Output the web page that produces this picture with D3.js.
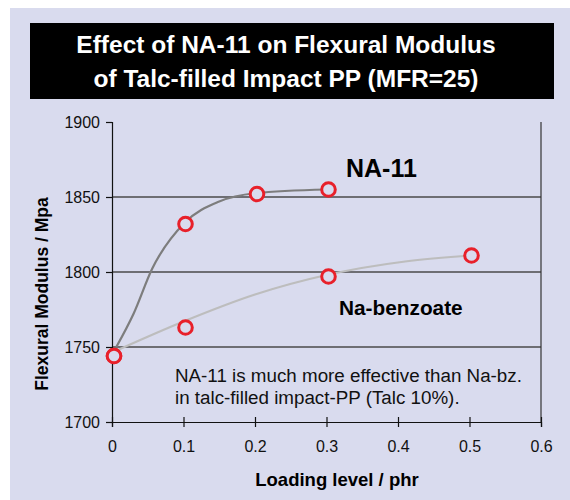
<!DOCTYPE html>
<html>
<head>
<meta charset="utf-8">
<script src="https://cdn.jsdelivr.net/npm/d3@7"></script>
<style>
  body { margin: 0; background: #fff; }
  svg { display: block; font-family: "Liberation Sans", Arial, sans-serif; }
</style>
</head>
<body>
<div id="chart"></div>
<script>
// Data points (loading level in phr, flexural modulus in MPa)
const na11X = [0, 0.1, 0.2, 0.3];
const na11Y = [1744, 1832, 1852, 1855];
const nabzX = [0, 0.1, 0.3, 0.5];
const nabzY = [1744, 1763, 1797, 1811];

// fitted trend curves
const na11TrendX = [0.006, 0.03, 0.056, 0.102, 0.15, 0.2, 0.3];
const na11TrendY = [1750, 1772, 1802, 1833, 1847, 1852.5, 1855];
const nabzTrendX = [0.008, 0.1, 0.2, 0.3, 0.41, 0.503];
const nabzTrendY = [1748, 1767, 1785, 1798, 1807, 1811];

const xTicks = [0, 0.1, 0.2, 0.3, 0.4, 0.5, 0.6];
const yTicks = [1700, 1750, 1800, 1850, 1900];
const gridY = [1750, 1800, 1850];

const width = 570, height = 500;

const svg = d3.select("#chart")
    .append("svg")
    .attr("width", width)
    .attr("height", height);

// lavender panel
svg.append("rect")
    .attr("x", 10).attr("y", 8)
    .attr("width", 560).attr("height", 492)
    .attr("fill", "#D9DBEE");

// title box
svg.append("rect")
    .attr("x", 30).attr("y", 23)
    .attr("width", 524).attr("height", 76)
    .attr("fill", "#000");

const title = svg.append("text")
    .attr("text-anchor", "middle")
    .attr("fill", "#fff")
    .attr("font-weight", "bold")
    .attr("font-size", 24.5);
title.append("tspan").attr("x", 286).attr("y", 53).text("Effect of NA-11 on Flexural Modulus");
title.append("tspan").attr("x", 286).attr("y", 87).text("of Talc-filled Impact PP (MFR=25)");

const x = d3.scaleLinear().domain([0, 0.6]).range([112, 541]);
const y = d3.scaleLinear().domain([1700, 1900]).range([422, 122]);

// grid lines
svg.append("g")
    .selectAll("line")
    .data(gridY)
    .enter()
    .append("line")
    .attr("x1", x(0)).attr("x2", x(0.6))
    .attr("y1", d => y(d)).attr("y2", d => y(d))
    .attr("stroke", "#4a4a4a")
    .attr("stroke-width", 1.5);

// right border
svg.append("line")
    .attr("x1", x(0.6)).attr("x2", x(0.6))
    .attr("y1", y(1900)).attr("y2", y(1700))
    .attr("stroke", "#333").attr("stroke-width", 1.2);

// y axis
const yAxis = svg.append("g")
    .attr("transform", `translate(${x(0)},0)`)
    .call(d3.axisLeft(y).tickValues(yTicks).tickSize(6).tickPadding(6).tickFormat(d3.format("d")));
yAxis.select(".domain").attr("stroke", "#111").attr("stroke-width", 1.2);
yAxis.selectAll(".tick line").attr("stroke", "#111").attr("stroke-width", 1.2);
yAxis.selectAll("text")
    .attr("font-size", 16)
    .attr("font-family", "Liberation Sans, Arial, sans-serif")
    .attr("fill", "#111");

// x axis
const xAxis = svg.append("g")
    .attr("transform", `translate(0,${y(1700)})`)
    .call(d3.axisBottom(x).tickValues(xTicks).tickSize(5).tickPadding(14).tickFormat(d => d === 0 ? "0" : d3.format(".1f")(d)));
xAxis.select(".domain").attr("stroke", "#111").attr("stroke-width", 1.2);
xAxis.selectAll(".tick line")
    .attr("y1", -5)
    .attr("stroke", "#111").attr("stroke-width", 1.2);
xAxis.selectAll("text")
    .attr("font-size", 16)
    .attr("font-family", "Liberation Sans, Arial, sans-serif")
    .attr("fill", "#111");

// axis titles
svg.append("text")
    .attr("x", 337).attr("y", 486)
    .attr("text-anchor", "middle")
    .attr("font-weight", "bold")
    .attr("font-size", 18.5)
    .text("Loading level / phr");

svg.append("text")
    .attr("transform", "translate(48,294) rotate(-90)")
    .attr("text-anchor", "middle")
    .attr("font-weight", "bold")
    .attr("font-size", 17.5)
    .text("Flexural Modulus / Mpa");

// trend curves
const line = d3.line()
    .x(d => x(d[0]))
    .y(d => y(d[1]))
    .curve(d3.curveMonotoneX);

svg.append("path")
    .datum(d3.zip(nabzTrendX, nabzTrendY))
    .attr("d", line)
    .attr("fill", "none")
    .attr("stroke", "#bdbdbd")
    .attr("stroke-width", 2.2);

svg.append("path")
    .datum(d3.zip(na11TrendX, na11TrendY))
    .attr("d", line)
    .attr("fill", "none")
    .attr("stroke", "#7d7d7d")
    .attr("stroke-width", 2.2);

// markers
function drawMarkers(xs, ys) {
    svg.append("g")
        .selectAll("circle")
        .data(d3.zip(xs, ys))
        .enter()
        .append("circle")
        .attr("cx", d => x(d[0]) + 2)
        .attr("cy", d => y(d[1]))
        .attr("r", 6.8)
        .attr("fill", "#D9DBEE")
        .attr("stroke", "#E8202A")
        .attr("stroke-width", 3);
}
drawMarkers(nabzX, nabzY);
drawMarkers(na11X, na11Y);

// series labels
svg.append("text")
    .attr("x", 346).attr("y", 177)
    .attr("font-weight", "bold")
    .attr("font-size", 25)
    .text("NA-11");

svg.append("text")
    .attr("x", 339).attr("y", 315)
    .attr("font-weight", "bold")
    .attr("font-size", 20.8)
    .text("Na-benzoate");

// note
const note = svg.append("text")
    .attr("font-size", 18.8)
    .attr("fill", "#111");
note.append("tspan").attr("x", 175).attr("y", 382).text("NA-11 is much more effective than Na-bz.");
note.append("tspan").attr("x", 175).attr("y", 404).text("in talc-filled impact-PP (Talc 10%).");
</script>
</body>
</html>
